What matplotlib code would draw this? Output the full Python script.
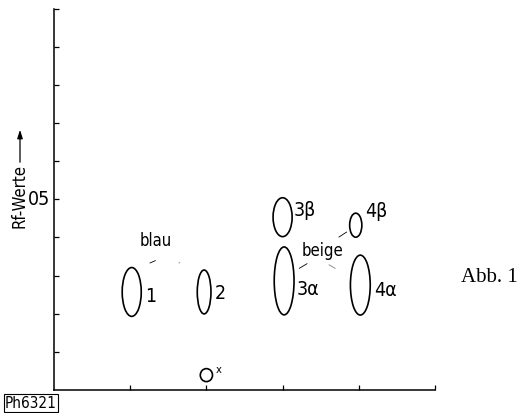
import matplotlib
matplotlib.use("Agg")
import matplotlib.pyplot as plt
from matplotlib.patches import Ellipse, FancyArrowPatch
from matplotlib import font_manager

# Flecken auf dem Chromatogramm: Bahn, Rf-Wert, Ausdehnung
spots = ["1", "2", "x", "3β", "3α", "4β", "4α"]
lane = [1.02, 1.97, 2.0, 3.0, 3.02, 3.96, 4.02]
rf = [0.257, 0.257, 0.039, 0.453, 0.286, 0.432, 0.275]
spot_w = [0.25, 0.18, 0.16, 0.25, 0.26, 0.16, 0.26]
spot_h = [0.128, 0.115, 0.034, 0.102, 0.178, 0.063, 0.157]
yticks = [0.1, 0.2, 0.3, 0.4, 0.5, 0.6, 0.7, 0.8, 0.9, 1.0]
xticks = [1, 2, 3, 4, 5]

names = {f.name for f in font_manager.fontManager.ttflist}
cond = [f for f in font_manager.fontManager.ttflist
        if f.name == "DejaVu Sans" and "ondensed" in f.fname and "Bold" not in f.fname
        and "Oblique" not in f.fname]
if cond:
    NF = dict(fontproperties=font_manager.FontProperties(fname=cond[0].fname))
else:
    NF = dict(fontfamily="DejaVu Sans")
print(cond[:1], sorted(n for n in names if "Narrow" in n or "Cond" in n))


def nf(size):
    if "fontproperties" in NF:
        p = NF["fontproperties"].copy()
        p.set_size(size)
        return dict(fontproperties=p)
    return dict(fontfamily="DejaVu Sans", fontsize=size)


fig = plt.figure(figsize=(5.25, 4.13), dpi=100)
ax = fig.add_axes([54/525, 23/413, 381/525, 381.5/413])
ax.set_xlim(0, 5)
ax.set_ylim(0, 1)

for s in ["top", "right"]:
    ax.spines[s].set_visible(False)
for s in ["left", "bottom"]:
    ax.spines[s].set_linewidth(1.1)

ax.set_xticks(xticks)
ax.set_xticklabels([])
ax.set_yticks(yticks)
ax.set_yticklabels([])
ax.tick_params(direction="in", length=3.5, width=0.9, pad=3)
ax.text(-0.05, 0.5, "05", ha="right", va="center", **nf(14))

for i, name in enumerate(spots):
    ax.add_patch(Ellipse((lane[i], rf[i]), spot_w[i], spot_h[i],
                         fill=False, lw=1.2, ec="black"))

# Beschriftung der Flecken
offs = {"1": (14, -3), "2": (12, -1), "x": (9, 4), "3β": (16, 5),
        "3α": (17, -6), "4β": (15, 10), "4α": (18, -4)}
sizes = {"x": 8}
for i, name in enumerate(spots):
    ax.annotate(name, (lane[i], rf[i]), xytext=offs[name], textcoords="offset points",
                ha="center", va="center", **nf(sizes.get(name, 14)))

ax.text(1.33, 0.39, "blau", ha="center", va="center", **nf(12))
ax.plot([1.26, 1.33], [0.333, 0.339], color="black", lw=0.6)
ax.plot([1.64, 1.65], [0.333, 0.334], color="gray", lw=0.6)

ax.text(3.53, 0.365, "beige", ha="center", va="center", **nf(12))
ax.plot([3.22, 3.32], [0.319, 0.331], color="black", lw=0.6)
ax.plot([3.61, 3.69], [0.328, 0.319], color="gray", lw=0.6)
ax.plot([3.74, 3.84], [0.401, 0.414], color="black", lw=0.6)

# y-Achsentitel mit Pfeil
fig.text(20/525, 1 - 196/413, "Rf-Werte", rotation=90, ha="center", va="center", **nf(12))
fig.add_artist(FancyArrowPatch(
    (20/525, 1 - 165/413), (20/525, 1 - 127/413), transform=fig.transFigure,
    arrowstyle="-|>,head_length=5,head_width=1.6", lw=0.9, color="black"))

fig.text(489/525, 1 - 277/413, "Abb. 1", ha="center", va="center",
         fontfamily="Liberation Serif", fontsize=15)
fig.text(31/525, 1 - 403/413, "Ph6321", ha="center", va="center",
         bbox=dict(boxstyle="square,pad=0.1", fc="white", ec="black", lw=0.8), **nf(11))

fig.savefig("out.png", dpi=100)
